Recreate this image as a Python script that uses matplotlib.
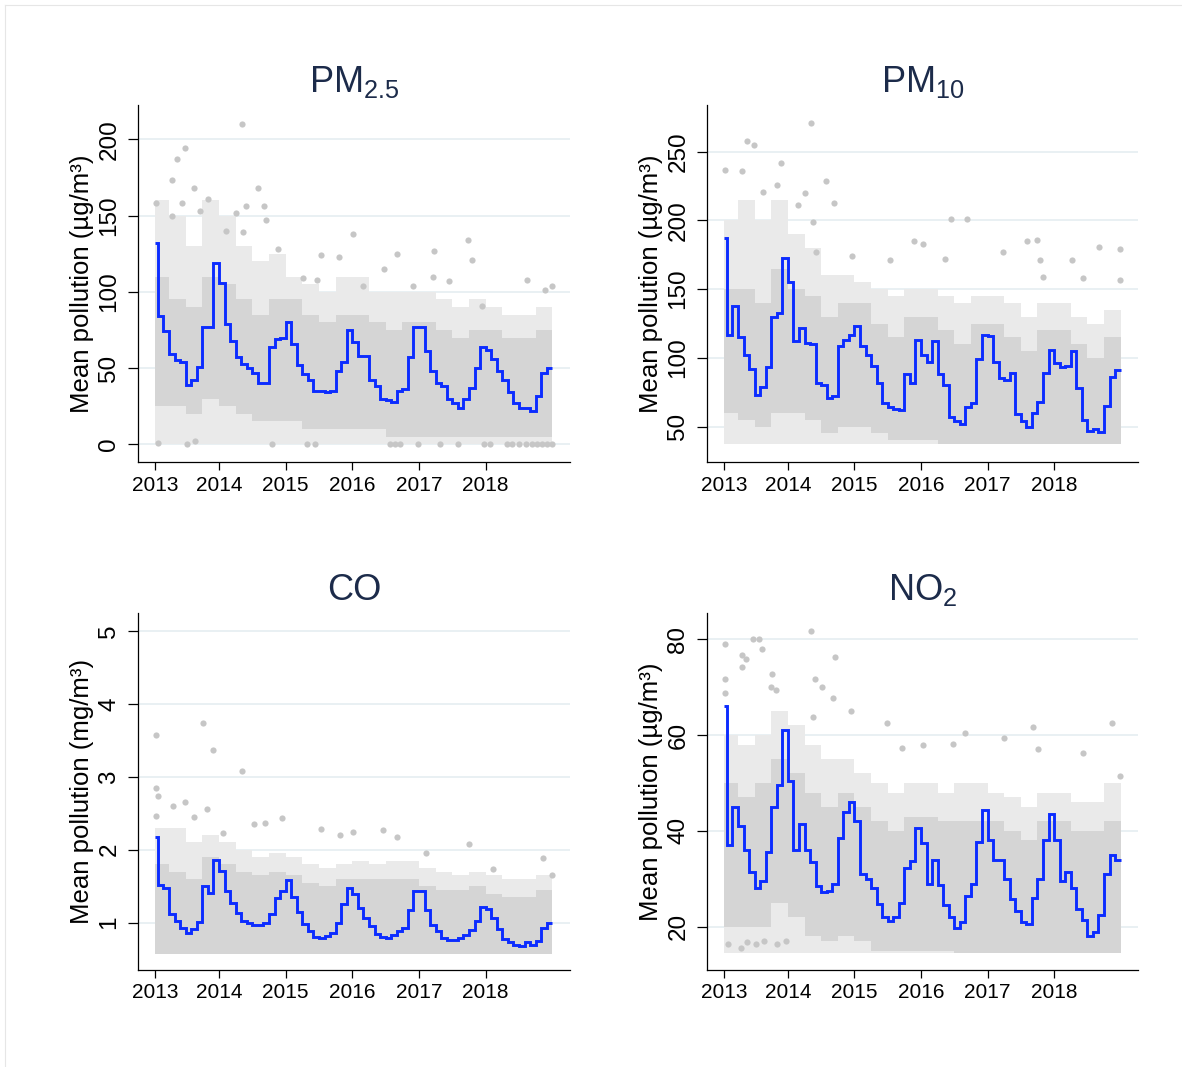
import matplotlib.pyplot as plt
from matplotlib.lines import Line2D
import numpy as np

plt.rcParams['font.family'] = ['Liberation Sans', 'DejaVu Sans']
plt.rcParams['mathtext.fontset'] = 'custom'
plt.rcParams['mathtext.rm'] = 'Liberation Sans'
plt.rcParams['mathtext.it'] = 'Liberation Sans:italic'

# ---- data ----
start = 2013 + 17 / 365          # first day with data
years = [2013, 2014, 2015, 2016, 2017, 2018]

# monthly means, Jan 2013 .. Dec 2018
pm25_mean = [132, 84, 74, 59, 55, 54, 39, 42, 51, 77, 77, 119,
             106, 79, 68, 57, 53, 50, 47, 40, 40, 64, 69, 70,
             80, 66, 52, 46, 42, 35, 35, 34, 35, 48, 54, 75,
             67, 58, 58, 42, 38, 30, 29, 28, 35, 36, 57, 77,
             77, 61, 48, 40, 38, 30, 27, 24, 30, 37, 50, 64,
             62, 56, 48, 42, 34, 27, 24, 24, 22, 32, 47, 50]
pm10_mean = [187, 117, 138, 115, 102, 92, 73, 79, 93, 130, 133, 173,
             155, 112, 122, 111, 110, 82, 80, 71, 72, 109, 113, 117,
             123, 109, 102, 94, 82, 67, 64, 63, 62, 88, 82, 113,
             102, 97, 112, 88, 80, 57, 54, 52, 64, 67, 99, 117,
             116, 97, 85, 84, 89, 59, 54, 50, 60, 68, 89, 106,
             96, 93, 94, 105, 78, 55, 47, 48, 46, 65, 86, 91]
co_mean = [2.18, 1.52, 1.48, 1.12, 1.02, 0.93, 0.86, 0.91, 1.01, 1.50, 1.41, 1.86,
           1.71, 1.44, 1.27, 1.13, 1.02, 0.99, 0.97, 0.97, 0.99, 1.12, 1.34, 1.44,
           1.58, 1.35, 1.15, 0.98, 0.88, 0.81, 0.79, 0.82, 0.86, 0.99, 1.25, 1.48,
           1.40, 1.20, 1.07, 0.95, 0.84, 0.81, 0.79, 0.83, 0.88, 0.93, 1.18, 1.44,
           1.44, 1.18, 0.97, 0.88, 0.79, 0.76, 0.76, 0.79, 0.83, 0.90, 1.02, 1.22,
           1.19, 1.06, 0.92, 0.78, 0.73, 0.70, 0.68, 0.73, 0.69, 0.75, 0.93, 1.00]
no2_mean = [66, 37, 45, 41, 36, 31.5, 28, 29.5, 35.5, 45, 49.5, 61,
            50.5, 36, 41.5, 36, 33.5, 28.5, 27.3, 27.5, 29, 38.5, 44, 46,
            42, 31, 30, 28, 24.7, 22, 21.2, 22, 25, 32.3, 33.7, 40.5,
            37.5, 29, 34, 28.7, 24.5, 22, 19.7, 21, 26.4, 29, 37.6, 44.3,
            38, 34, 34, 30, 25.8, 23.3, 21, 20.5, 26, 30, 38, 43.5,
            38, 29.5, 31.5, 28, 23.6, 21.4, 18.1, 19, 22.5, 31, 35, 34]

# spread of the daily points, by quarter: lower/upper edge of the dense cloud,
# and highest extent of the sparse fringe
pm25_lo = [25, 25, 20, 30, 25, 20, 15, 15, 15, 10, 10, 10,
           10, 10, 5, 5, 5, 5, 5, 5, 5, 5, 5, 5]
pm25_hi = [110, 95, 90, 110, 105, 95, 85, 95, 95, 85, 80, 85,
           85, 80, 75, 80, 80, 75, 70, 75, 75, 70, 70, 75]
pm25_top = [160, 150, 130, 160, 150, 130, 120, 125, 110, 105, 100, 110,
            110, 100, 100, 100, 100, 95, 90, 95, 90, 85, 85, 90]
pm10_lo = [60, 55, 50, 60, 60, 55, 45, 50, 50, 45, 40, 40,
           40, 37, 37, 37, 37, 37, 37, 37, 37, 37, 37, 37]
pm10_hi = [150, 150, 140, 165, 150, 145, 130, 140, 140, 125, 115, 130,
           130, 120, 110, 125, 125, 115, 105, 120, 120, 110, 100, 115]
pm10_top = [200, 215, 200, 215, 190, 180, 160, 160, 155, 150, 145, 150,
            150, 145, 140, 145, 145, 140, 130, 140, 140, 130, 125, 135]
co_lo = [0.57] * 24
co_hi = [1.8, 1.7, 1.6, 1.9, 1.8, 1.7, 1.65, 1.7, 1.65, 1.55, 1.5, 1.6,
         1.6, 1.6, 1.6, 1.6, 1.5, 1.45, 1.45, 1.5, 1.4, 1.35, 1.35, 1.45]
co_top = [2.3, 2.3, 2.1, 2.2, 2.1, 2.0, 1.9, 1.95, 1.9, 1.8, 1.75, 1.8,
          1.85, 1.8, 1.85, 1.85, 1.75, 1.7, 1.65, 1.7, 1.65, 1.6, 1.6, 1.65]
no2_lo = [20, 20, 20, 25, 22, 18, 17, 18, 17, 15, 15, 15,
          15, 15, 14.5, 14.5, 14.5, 14.5, 14.5, 14.5, 14.5, 14.5, 14.5, 14.5]
no2_hi = [50, 47, 50, 55, 52, 48, 45, 48, 45, 42, 40, 43,
          43, 42, 42, 42, 42, 40, 38, 42, 42, 40, 40, 42]
no2_top = [60, 58, 60, 65, 62, 58, 55, 55, 52, 50, 48, 50,
           50, 48, 50, 50, 48, 47, 45, 48, 48, 46, 46, 50]
floors = [0, 37, 0.57, 14.5]

# single days standing out of the cloud (date, value)
pm25_out_x = [2014.34, 2013.49, 2013.375, 2013.30, 2013.05, 2013.29, 2013.44, 2013.63,
              2013.715, 2013.83, 2014.255, 2014.405, 2014.58, 2014.68, 2014.705, 2014.105,
              2014.365, 2014.89, 2016.015, 2017.74, 2017.225, 2015.80, 2015.53, 2016.675,
              2018.615, 2018.99, 2017.80, 2018.89, 2015.465, 2015.255, 2016.165, 2016.475,
              2016.915, 2017.205, 2017.455, 2017.94,
              2013.515, 2013.64, 2013.09, 2014.79, 2015.315, 2015.44, 2016.565, 2016.64,
              2016.715, 2016.99, 2017.315, 2017.59, 2017.975, 2018.065, 2018.315, 2018.40,
              2018.50, 2018.60, 2018.69, 2018.765, 2018.84, 2018.915, 2018.99]
pm25_out_y = [210, 194, 187, 173, 158, 150, 158, 168,
              153, 161, 152, 156, 168, 156, 147, 140,
              139, 128, 138, 134, 127, 123, 124, 125,
              108, 104, 121, 101, 108, 109, 104, 115,
              104, 110, 107, 91,
              0, 2, 1, 0, 0, 0, 0, 0,
              0, 0, 0, 0, 0, 0, 0, 0,
              0, 0, 0, 0, 0, 0, 0]
pm10_out_x = [2014.34, 2013.38, 2013.49, 2013.05, 2013.305, 2013.89, 2014.575, 2013.63,
              2013.84, 2014.25, 2014.375, 2014.70, 2014.155, 2016.45, 2016.69, 2015.90,
              2016.025, 2017.59, 2017.75, 2018.68, 2018.99, 2017.225, 2018.265, 2015.54,
              2017.79, 2016.365, 2014.965, 2014.415, 2018.99, 2018.44, 2017.83]
pm10_out_y = [271, 258, 255, 237, 236, 242, 229, 221,
              226, 220, 199, 213, 211, 201, 201, 185,
              183, 185, 186, 181, 179, 177, 171, 171,
              171, 172, 174, 177, 157, 158, 159]
co_out_x = [2013.055, 2013.755, 2013.915, 2014.34, 2013.055, 2013.09, 2013.49, 2013.305,
            2013.825, 2013.055, 2014.95, 2013.63, 2015.53, 2016.455, 2016.015, 2014.065,
            2014.53, 2014.69, 2017.755, 2016.665, 2017.10, 2018.865, 2018.99, 2015.815,
            2018.115]
co_out_y = [3.57, 3.74, 3.37, 3.08, 2.84, 2.74, 2.66, 2.60,
            2.56, 2.46, 2.44, 2.45, 2.29, 2.27, 2.25, 2.23,
            2.35, 2.36, 2.08, 2.18, 1.96, 1.89, 1.65, 2.20,
            1.74]
no2_out_x = [2014.34, 2013.055, 2013.48, 2013.565, 2013.615, 2013.305, 2013.375, 2014.705,
             2013.305, 2013.05, 2013.755, 2014.405, 2013.05, 2014.505, 2013.74, 2013.815,
             2014.68, 2014.955, 2014.38, 2015.49, 2018.875, 2016.665, 2017.69, 2016.03,
             2017.24, 2017.765, 2018.44, 2015.715, 2016.475, 2018.99,
             2013.10, 2013.29, 2013.39, 2013.525, 2013.64, 2013.84, 2013.965]
no2_out_y = [81.7, 79, 80, 80, 77.9, 76.8, 75.8, 76.2,
             74.2, 71.6, 72.8, 71.7, 68.7, 70.1, 70.1, 69.4,
             67.8, 65, 63.8, 62.6, 62.6, 60.5, 61.7, 57.9,
             59.4, 57.1, 56.2, 57.2, 58.2, 51.4,
             16.5, 15.5, 16.9, 16.5, 17, 16.3, 17]

titles = ['PM$_{2.5}$', 'PM$_{10}$', 'CO', 'NO$_2$']
ylabels = ['Mean pollution (µg/m³)', 'Mean pollution (µg/m³)',
           'Mean pollution (mg/m³)', 'Mean pollution (µg/m³)']
yticks = [[0, 50, 100, 150, 200], [50, 100, 150, 200, 250],
          [1, 2, 3, 4, 5], [20, 40, 60, 80]]
ylims = [(-11.8, 222.5), (24, 284), (0.352, 5.24), (10.97, 85.4)]

means = [pm25_mean, pm10_mean, co_mean, no2_mean]
los = [pm25_lo, pm10_lo, co_lo, no2_lo]
his = [pm25_hi, pm10_hi, co_hi, no2_hi]
tops = [pm25_top, pm10_top, co_top, no2_top]
outs = [(pm25_out_x, pm25_out_y), (pm10_out_x, pm10_out_y),
        (co_out_x, co_out_y), (no2_out_x, no2_out_y)]

# ---- drawing ----
month_edges = np.concatenate([[start], 2013 + np.arange(1, 72) / 12, [2019.0]])
quarter_edges = np.concatenate([[start], 2013 + np.arange(1, 24) / 4, [2019.0]])
xtick_pos = [start] + years[1:]

fig = plt.figure(figsize=(11.82, 10.67), dpi=100)
boxes = [[0.1165, 0.5667, 0.3657, 0.3349], [0.5979, 0.5667, 0.3651, 0.3349],
         [0.1165, 0.0909, 0.3657, 0.3343], [0.5979, 0.0909, 0.3651, 0.3343]]

dot_col = '#c6c6c6'
for i in range(4):
    ax = fig.add_axes(boxes[i])
    fl = np.full(24, floors[i])
    # sparse fringe below and above the cloud, then the dense body
    ax.stairs(los[i], quarter_edges, baseline=fl, fill=True, color='#eaeaea', zorder=1)
    ax.stairs(tops[i], quarter_edges, baseline=his[i], fill=True, color='#eaeaea', zorder=1)
    ax.stairs(his[i], quarter_edges, baseline=los[i], fill=True, color='#d5d5d5', zorder=1.1)
    ax.scatter(outs[i][0], outs[i][1], s=20, color=dot_col, linewidths=0, zorder=1.2)
    ax.stairs(means[i], month_edges, baseline=None, color='#0c2cff', lw=2.1, zorder=3)

    ax.set_xlim(2012.78, 2019.265)
    ax.set_ylim(*ylims[i])
    ax.set_xticks(xtick_pos)
    ax.set_xticklabels([str(y) for y in years])
    ax.set_yticks(yticks[i])
    ax.tick_params(axis='x', labelsize=15, length=6, width=0.9, pad=3.5)
    ax.tick_params(axis='y', labelsize=17.5, length=7.5, width=0.9, pad=5, labelrotation=90)
    for lab in ax.get_yticklabels():
        lab.set_va('center')
    ax.grid(axis='y', color='#e7eff2', lw=1.3, zorder=0)
    ax.set_axisbelow(True)
    for s in ['top', 'right']:
        ax.spines[s].set_visible(False)
    for s in ['left', 'bottom']:
        ax.spines[s].set_linewidth(0.9)
    ax.set_ylabel(ylabels[i], fontsize=18.5, labelpad=3)
    ax.text(0.5, 1.037, titles[i], transform=ax.transAxes, ha='center', va='baseline',
            fontsize=26, color='#1c2b4a')

# faint page border
fig.add_artist(Line2D([0.0042, 1.0], [0.9953, 0.9953], color='#e6e6e6', lw=0.8))
fig.add_artist(Line2D([0.0042, 0.0042], [0.0, 0.9953], color='#e6e6e6', lw=0.8))

fig.savefig('out.png', dpi=100)
